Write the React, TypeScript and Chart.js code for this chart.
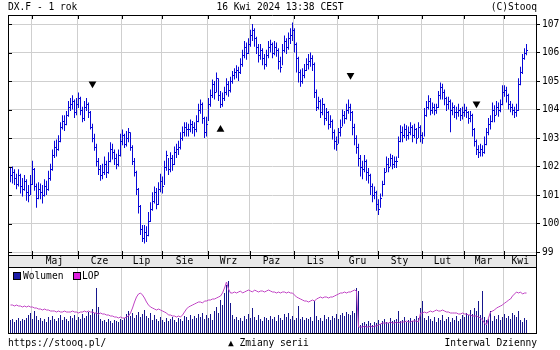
import React, { useEffect, useRef } from "react";
import { Chart, registerables } from "chart.js";

Chart.register(...registerables);

const FONT = "'DejaVu Sans Mono', monospace";
const FONT_SIZE = 9.6;

// trading calendar
const FIRST_DAY = "2023-04-14";
const LAST_DAY = "2024-04-16";
const HOLIDAYS = ["2023-07-04", "2023-12-25", "2024-01-01", "2024-03-29"];
const MONTH_NAMES = ["Sty", "Lut", "Mar", "Kwi", "Maj", "Cze", "Lip", "Sie", "Wrz", "Paz", "Lis", "Gru"];

// price axis
const PRICE_TICKS = [99, 100, 101, 102, 103, 104, 105, 106, 107];
const PRICE_MIN = 98.895;
const PRICE_MAX = 107.316;
const X_MIN = -1.25;
const X_MAX = 263.25;

const HIGH = [
  101.95, 102.0, 101.9, 101.75, 101.9, 101.75, 101.6, 101.7, 101.55,
  101.35, 101.7, 102.2, 101.95, 101.4, 101.45, 101.4, 101.35, 101.55, 101.5,
  101.85, 102.1, 102.6, 102.9, 102.95, 103.1, 103.55, 103.8, 103.8, 103.95,
  104.3, 104.4, 104.5, 104.35, 104.4, 104.6, 104.45, 104.1, 104.3, 104.4,
  104.25, 103.95, 103.5, 103.15, 102.8, 102.3, 102.05, 102.1, 102.35, 102.2,
  102.5, 102.85, 102.8, 102.6, 102.45, 102.6, 103.15, 103.3, 103.15, 103.25,
  103.35, 103.2, 102.75, 102.3, 101.85, 101.25, 100.65, 99.95, 99.95, 99.9,
  100.4, 100.75, 101.1, 101.3, 101.25, 101.45, 101.75, 101.65, 102.2, 102.55,
  102.3, 102.5, 102.4, 102.7, 102.8, 102.9, 103.2, 103.4, 103.55,
  103.55, 103.5, 103.65, 103.6, 103.55, 103.8, 104.2, 104.35, 104.25, 103.75,
  103.75, 104.4, 104.7, 105.05, 105.0, 105.3, 105.1, 104.65, 104.6, 104.8,
  105.1, 105.0, 105.15, 105.35, 105.45, 105.55, 105.5, 105.8, 106.1, 106.4,
  106.35, 106.5, 106.8, 107.0, 106.85, 106.55, 106.3, 106.3, 106.15, 105.95,
  106.1, 106.4, 106.45, 106.35, 106.4, 106.35, 106.15, 105.85, 106.3, 106.6,
  106.5, 106.7, 106.85, 107.05, 106.85, 106.35, 105.85, 105.4, 105.45, 105.6,
  105.8, 105.95, 106.0, 105.9, 105.65, 104.7, 104.45, 104.35, 104.4, 104.2,
  104.05, 103.95, 103.8, 103.65, 103.3, 103.05, 103.35, 103.65, 104.0, 103.95,
  104.2, 104.35, 104.2, 103.95, 103.5, 103.1, 102.8, 102.4, 102.2, 102.4,
  102.25, 101.95, 101.75, 101.4, 101.3, 101.15, 100.85, 101.05, 101.5, 101.95,
  102.35, 102.3, 102.45, 102.4, 102.35, 102.35, 103.05, 103.45, 103.4,
  103.5, 103.45, 103.4, 103.55, 103.45, 103.5, 103.35, 103.55, 103.45, 103.2,
  104.05, 104.3, 104.5, 104.4, 104.25, 104.2, 104.2, 104.65, 104.95, 104.9,
  104.7, 104.45, 104.45, 104.35, 104.25, 104.15, 104.1, 104.2, 104.05, 104.1,
  104.2, 104.1, 103.95, 103.95, 103.85, 103.35, 102.95, 102.75, 102.8, 102.75,
  103.05, 103.35, 103.7, 103.8, 104.25, 104.15, 104.3, 104.25, 104.35, 104.85,
  104.85, 104.8, 104.55, 104.3, 104.2, 104.1, 104.2, 105.1, 105.5, 105.95,
  106.15, 106.3,
];

const LOW = [
  101.45, 101.4, 101.35, 101.2, 101.3, 101.05, 100.95, 101.15, 100.8,
  100.75, 101.0, 101.35, 101.15, 100.55, 100.85, 100.85, 100.7, 100.95, 101.0,
  101.15, 101.5, 101.85, 102.3, 102.35, 102.55, 102.85, 103.3, 103.25, 103.45,
  103.75, 103.95, 104.0, 103.7, 103.8, 104.05, 103.8, 103.55, 103.6, 103.95,
  103.7, 103.3, 102.85, 102.55, 102.0, 101.7, 101.5, 101.55, 101.7, 101.6,
  101.75, 102.15, 102.25, 102.05, 101.9, 102.0, 102.35, 102.75, 102.65, 102.7,
  102.85, 102.55, 102.05, 101.65, 101.0, 100.35, 99.6, 99.35, 99.3, 99.35,
  99.55, 100.05, 100.45, 100.7, 100.5, 100.65, 101.1, 101.05, 101.35, 101.85,
  101.7, 101.8, 101.85, 102.05, 102.3, 102.4, 102.6, 102.9, 103.05,
  103.05, 103.05, 103.2, 103.15, 103.05, 103.2, 103.55, 103.85, 103.5, 103.0,
  103.05, 103.6, 104.1, 104.4, 104.35, 104.6, 104.3, 104.05, 104.1, 104.3,
  104.5, 104.45, 104.6, 104.9, 105.05, 105.1, 105.0, 105.25, 105.5, 105.8,
  105.75, 105.95, 106.2, 106.4, 106.2, 105.95, 105.65, 105.75, 105.55, 105.4,
  105.5, 105.8, 106.0, 105.8, 105.9, 105.85, 105.4, 105.3, 105.55, 106.0,
  105.95, 106.1, 106.3, 106.4, 106.0, 105.3, 104.95, 104.8, 104.9, 105.1,
  105.35, 105.4, 105.5, 105.35, 104.4, 103.95, 104.0, 103.7, 103.8, 103.45,
  103.6, 103.3, 103.35, 102.95, 102.6, 102.55, 102.8, 103.05, 103.4, 103.5,
  103.65, 103.85, 103.6, 103.1, 102.75, 102.45, 102.0, 101.65, 101.55, 101.8,
  101.5, 101.4, 101.0, 100.75, 100.85, 100.45, 100.3, 100.55, 100.95, 101.35,
  101.8, 101.8, 102.0, 101.9, 101.95, 101.95, 102.3, 102.85, 102.85,
  103.0, 102.9, 102.95, 103.1, 102.85, 103.0, 102.8, 103.0, 102.85, 102.8,
  103.05, 103.75, 104.0, 103.8, 103.85, 103.8, 103.85, 104.05, 104.35, 104.35,
  104.15, 103.95, 104.0, 103.2, 103.8, 103.7, 103.65, 103.75, 103.6, 103.65,
  103.75, 103.7, 103.5, 103.55, 103.05, 102.7, 102.4, 102.3, 102.35, 102.35,
  102.45, 102.75, 103.1, 103.3, 103.55, 103.55, 103.8, 103.75, 103.9, 104.15,
  104.45, 104.25, 104.0, 103.9, 103.8, 103.7, 103.75, 103.95, 104.85, 105.25,
  105.75, 105.9,
];

const CLOSE = [
  101.7, 101.8, 101.6, 101.4, 101.7, 101.3, 101.2, 101.5, 101.1,
  101.0, 101.4, 101.9, 101.3, 100.9, 101.2, 101.1, 101.0, 101.3, 101.2,
  101.6, 101.9, 102.4, 102.7, 102.6, 102.9, 103.4, 103.6, 103.5, 103.8,
  104.1, 104.2, 104.3, 103.9, 104.2, 104.4, 104.0, 103.7, 104.1, 104.2,
  103.9, 103.4, 103.0, 102.7, 102.2, 101.9, 101.7, 101.8, 102.1, 101.8,
  102.2, 102.6, 102.5, 102.3, 102.1, 102.4, 102.9, 103.1, 102.8, 103.0,
  103.2, 102.7, 102.2, 101.8, 101.2, 100.6, 99.8, 99.5, 99.7, 99.6,
  100.1, 100.5, 100.8, 101.1, 100.7, 101.2, 101.5, 101.3, 102.0, 102.4,
  101.9, 102.3, 102.1, 102.5, 102.6, 102.7, 103.0, 103.2, 103.4,
  103.3, 103.3, 103.5, 103.4, 103.3, 103.6, 104.0, 104.2, 103.7, 103.2,
  103.5, 104.2, 104.5, 104.9, 104.6, 105.1, 104.5, 104.2, 104.4, 104.6,
  104.9, 104.7, 105.0, 105.2, 105.3, 105.4, 105.3, 105.6, 105.9, 106.2,
  106.0, 106.3, 106.6, 106.8, 106.5, 106.2, 105.9, 106.1, 105.8, 105.6,
  105.9, 106.2, 106.3, 106.0, 106.2, 106.1, 105.7, 105.5, 106.1, 106.4,
  106.2, 106.5, 106.6, 106.8, 106.3, 105.8, 105.3, 105.0, 105.2, 105.4,
  105.6, 105.7, 105.8, 105.6, 104.6, 104.1, 104.3, 103.9, 104.2, 103.7,
  103.9, 103.5, 103.6, 103.2, 102.9, 102.8, 103.2, 103.4, 103.8, 103.7,
  104.0, 104.1, 103.9, 103.4, 103.0, 102.7, 102.3, 102.0, 101.9, 102.2,
  101.8, 101.7, 101.3, 101.0, 101.1, 100.7, 100.5, 100.9, 101.4, 101.8,
  102.1, 102.0, 102.3, 102.1, 102.2, 102.2, 102.9, 103.2, 103.1,
  103.3, 103.1, 103.2, 103.4, 103.1, 103.3, 103.0, 103.4, 103.1, 103.0,
  103.8, 104.1, 104.3, 104.0, 104.1, 104.0, 104.1, 104.5, 104.8, 104.6,
  104.4, 104.2, 104.3, 104.0, 104.1, 103.9, 103.9, 104.0, 103.8, 103.9,
  104.0, 103.9, 103.7, 103.8, 103.3, 102.9, 102.6, 102.5, 102.6, 102.5,
  102.8, 103.2, 103.5, 103.6, 104.0, 103.8, 104.1, 104.0, 104.2, 104.6,
  104.7, 104.5, 104.2, 104.1, 104.0, 103.9, 104.0, 104.9, 105.3, 105.8,
  106.0, 106.1,
];

const VOLUME = [
  13, 14, 11, 13, 15, 12, 14, 13, 15,
  18, 20, 14, 22, 17, 13, 15, 12, 14, 11,
  16, 13, 17, 14, 12, 15, 18, 13, 16, 14,
  12, 17, 15, 18, 13, 16, 14, 19, 15, 17,
  21, 18, 24, 20, 45, 26, 14, 12, 13, 11,
  14, 12, 10, 13, 12, 11, 14, 13, 15, 19,
  22, 17, 20, 15, 18, 21, 16, 19, 23, 17,
  15, 20, 13, 18, 14, 12, 16, 13, 11, 15,
  12, 14, 16, 13, 11, 15, 14, 12, 17,
  16, 13, 18, 14, 17, 15, 19, 16, 20, 14,
  18, 15, 19, 13, 22, 26, 20, 33, 28, 40,
  48, 52, 30, 18, 14, 16, 13, 15, 12, 17,
  14, 19, 15, 25, 16, 13, 18, 14, 12, 16,
  15, 13, 17, 14, 16, 12, 18, 15, 13, 19,
  16, 20, 14, 17, 13, 15, 27, 14, 16, 13,
  15, 14, 16, 12, 32, 17, 13, 15, 12, 18,
  14, 16, 13, 17, 15, 19, 14, 18, 20, 17,
  21, 19, 18, 22, 20, 45, 42, 8, 10, 11,
  9, 12, 10, 8, 11, 10, 13, 9, 12, 14,
  11, 10, 15, 12, 13, 14, 22, 12, 13,
  16, 11, 13, 15, 12, 14, 17, 15, 25, 32,
  15, 13, 17, 14, 12, 16, 11, 15, 13, 18,
  12, 14, 16, 11, 15, 13, 17, 12, 14, 18,
  16, 20, 18, 23, 19, 25, 22, 32, 18, 42,
  16, 13, 14, 22, 12, 17, 14, 18, 13, 16,
  19, 15, 17, 14, 20, 18, 16, 22, 13, 11,
  15, 13,
];

const LOP = [
  28, 28, 27, 28, 27, 27, 26, 27, 26,
  27, 26, 26, 25, 25, 24, 24, 23, 24, 23,
  23, 22, 22, 22, 21, 22, 21, 21, 22, 21,
  21, 21, 22, 21, 21, 20, 21, 21, 22, 21,
  22, 21, 21, 20, 20, 19, 20, 19, 19, 18,
  18, 17, 17, 16, 16, 15, 16, 15, 15, 16,
  17, 20, 25, 31, 36, 39, 40, 38, 35, 31,
  28, 26, 25, 24, 23, 24, 23, 22, 21, 20,
  18, 18, 17, 17, 16, 17, 16, 18, 21,
  24, 26, 27, 28, 29, 30, 31, 31, 30, 32,
  32, 33, 33, 34, 34, 35, 36, 37, 40, 45,
  51, 44, 40, 40, 41, 40, 41, 42, 40, 41,
  42, 43, 42, 41, 43, 42, 41, 42, 42, 41,
  42, 43, 42, 41, 41, 40, 41, 40, 41, 41,
  40, 41, 40, 40, 38, 36, 35, 34, 33, 32,
  32, 31, 32, 33, 32, 34, 35, 36, 35, 36,
  36, 35, 36, 36, 37, 38, 39, 40, 40, 41,
  40, 41, 41, 42, 43, 42, 6, 6, 6, 7,
  6, 6, 7, 6, 7, 7, 8, 9, 10, 10,
  10, 10, 11, 10, 10, 11, 10, 11, 11,
  11, 12, 11, 11, 12, 12, 12, 11, 20, 20,
  21, 20, 21, 22, 21, 22, 23, 22, 22, 23,
  22, 21, 21, 20, 20, 20, 20, 19, 19, 20,
  19, 19, 18, 18, 17, 17, 17, 16, 15, 13,
  10, 8, 15, 21, 22, 23, 25, 26, 27, 28,
  30, 31, 33, 34, 37, 39, 41, 40, 41, 39,
  40, 40,
];

// series changes (contract rolls)
const ROLL_DOWN_INDEX = [41, 170, 233];
const ROLL_DOWN_PRICE = [104.9, 105.2, 104.2];
const ROLL_UP_INDEX = [105];
const ROLL_UP_PRICE = [103.3];

const BLUE = "#0808d8";
const VOL_COLOR = "#16168c";
const LOP_COLOR = "#c044c4";
const GRID = "#cfcfcf";
const BAND = "#e8e8e8";

function tradingDays(): Date[] {
  const out: Date[] = [];
  const d = new Date(FIRST_DAY + "T00:00:00Z");
  const end = new Date(LAST_DAY + "T00:00:00Z");
  while (d <= end) {
    const wd = d.getUTCDay();
    const iso = d.toISOString().slice(0, 10);
    if (wd !== 0 && wd !== 6 && !HOLIDAYS.includes(iso)) out.push(new Date(d.getTime()));
    d.setUTCDate(d.getUTCDate() + 1);
  }
  return out;
}

function monthBoundaries(days: Date[]) {
  const res: { index: number; label: string }[] = [];
  for (let i = 1; i < days.length; i++) {
    if (days[i].getUTCMonth() !== days[i - 1].getUTCMonth()) {
      res.push({ index: i, label: MONTH_NAMES[days[i].getUTCMonth()] });
    }
  }
  return res;
}

export default function App() {
  const priceRef = useRef<HTMLCanvasElement>(null);
  const volRef = useRef<HTMLCanvasElement>(null);

  useEffect(() => {
    const days = tradingDays();
    const bounds = monthBoundaries(days);

    const xScaleOpts = {
      type: "linear" as const,
      min: X_MIN,
      max: X_MAX,
      offset: false,
      grid: { offset: false, color: GRID, drawTicks: false, lineWidth: 1 },
      border: { display: false },
      ticks: { display: false, autoSkip: false },
      afterBuildTicks: (s: any) => {
        s.ticks = bounds.map((b) => ({ value: b.index - 0.5 }));
      },
      afterFit: (s: any) => {
        s.height = 0;
      },
    };

    const pricePlugin = {
      id: "priceDecor",
      afterDatasetsDraw(chart: any) {
        const { ctx, chartArea: a, scales } = chart;
        const x = scales.x;
        const y = scales.y;
        ctx.save();
        ctx.beginPath();
        ctx.rect(a.left, a.top, a.right - a.left, a.bottom - a.top);
        ctx.clip();
        ctx.fillStyle = BLUE;
        for (let i = 0; i < CLOSE.length; i++) {
          const px = x.getPixelForValue(i);
          // close tick (right)
          const pc = Math.round(y.getPixelForValue(CLOSE[i]));
          ctx.fillRect(Math.round(px + 0.5), pc, 1, 1);
          // open tick (left) at the previous session's close
          if (i > 0) {
            const po = Math.round(y.getPixelForValue(CLOSE[i - 1]));
            ctx.fillRect(Math.round(px - 1.5), po, 1, 1);
          }
        }
        ctx.restore();
      },
      afterDraw(chart: any) {
        const { ctx, chartArea: a, scales } = chart;
        const x = scales.x;
        const y = scales.y;
        const L = Math.round(a.left);
        const R = Math.round(a.right) - 1;
        const T = Math.round(a.top);
        const B = Math.round(a.bottom);
        ctx.save();
        ctx.strokeStyle = "#000";
        ctx.lineWidth = 1;
        // band
        ctx.fillStyle = BAND;
        ctx.fillRect(L, B, R - L, 12);
        ctx.beginPath();
        ctx.moveTo(L + 0.5, T);
        ctx.lineTo(L + 0.5, B + 12);
        ctx.moveTo(R + 0.5, T);
        ctx.lineTo(R + 0.5, B + 12);
        ctx.moveTo(L, T + 0.5);
        ctx.lineTo(R + 1, T + 0.5);
        ctx.moveTo(L, B + 0.5);
        ctx.lineTo(R + 1, B + 0.5);
        ctx.stroke();
        // inner ticks
        ctx.beginPath();
        for (const v of PRICE_TICKS) {
          const py = Math.round(y.getPixelForValue(v)) + 0.5;
          ctx.moveTo(L, py);
          ctx.lineTo(L + 4, py);
        }
        for (const b of bounds) {
          const px = Math.round(x.getPixelForValue(b.index - 0.5)) + 0.5;
          ctx.moveTo(px, T);
          ctx.lineTo(px, T + 4);
          ctx.moveTo(px, B - 4);
          ctx.lineTo(px, B + 4);
        }
        ctx.stroke();
        // month labels
        ctx.fillStyle = "#000";
        ctx.font = `${FONT_SIZE}px ${FONT}`;
        ctx.textAlign = "center";
        ctx.textBaseline = "middle";
        bounds.forEach((b, k) => {
          const x0 = x.getPixelForValue(b.index - 0.5);
          const x1 = k + 1 < bounds.length ? x.getPixelForValue(bounds[k + 1].index - 0.5) : a.right;
          ctx.fillText(b.label, (x0 + x1) / 2, B + 6.5);
        });
        ctx.restore();
      },
    };

    const priceChart = new Chart(priceRef.current as HTMLCanvasElement, {
      type: "bar",
      data: {
        datasets: [
          {
            type: "bar",
            data: HIGH.map((h, i) => ({ x: i, y: [LOW[i], h] })) as any,
            backgroundColor: BLUE,
            barThickness: 1,
            inflateAmount: 0,
            borderWidth: 0,
            order: 2,
          } as any,
          {
            type: "line",
            data: ROLL_DOWN_INDEX.map((d, k) => ({ x: d, y: ROLL_DOWN_PRICE[k] })),
            showLine: false,
            pointStyle: "triangle",
            pointRotation: 180,
            pointRadius: 4.5,
            pointBackgroundColor: "#000",
            pointBorderColor: "#000",
            pointBorderWidth: 0,
            order: 0,
          } as any,
          {
            type: "line",
            data: ROLL_UP_INDEX.map((d, k) => ({ x: d, y: ROLL_UP_PRICE[k] })),
            showLine: false,
            pointStyle: "triangle",
            pointRotation: 0,
            pointRadius: 4.5,
            pointBackgroundColor: "#000",
            pointBorderColor: "#000",
            pointBorderWidth: 0,
            order: 0,
          } as any,
        ],
      },
      options: {
        responsive: false,
        animation: false,
        devicePixelRatio: 1,
        events: [],
        layout: { padding: { left: 8, top: 15, right: 0, bottom: 12 } },
        plugins: { legend: { display: false }, tooltip: { enabled: false } },
        scales: {
          x: xScaleOpts as any,
          y: {
            type: "linear",
            position: "right",
            min: PRICE_MIN,
            max: PRICE_MAX,
            grid: { color: GRID, tickColor: "#000", tickLength: 3 },
            border: { display: false },
            ticks: {
              font: { family: FONT, size: FONT_SIZE },
              color: "#000",
              padding: 2,
              callback: (v: any) => String(v),
            },
            afterBuildTicks: (s: any) => {
              s.ticks = PRICE_TICKS.map((v) => ({ value: v }));
            },
            afterFit: (s: any) => {
              s.width = 23;
            },
          } as any,
        },
      },
      plugins: [pricePlugin],
    });

    const volPlugin = {
      id: "volDecor",
      afterDraw(chart: any) {
        const { ctx, chartArea: a } = chart;
        const L = Math.round(a.left);
        const R = Math.round(a.right) - 1;
        const T = Math.round(a.top);
        const B = Math.round(a.bottom);
        ctx.save();
        ctx.strokeStyle = "#000";
        ctx.lineWidth = 1;
        ctx.strokeRect(L + 0.5, T + 0.5, R - L, B - T);
        ctx.restore();
      },
    };

    const volChart = new Chart(volRef.current as HTMLCanvasElement, {
      type: "bar",
      data: {
        datasets: [
          {
            type: "line",
            data: LOP.map((v, i) => ({ x: i, y: v })),
            yAxisID: "y2",
            borderColor: LOP_COLOR,
            borderWidth: 1,
            pointRadius: 0,
            tension: 0,
            order: 0,
          } as any,
          {
            type: "bar",
            data: VOLUME.map((v, i) => ({ x: i, y: v })) as any,
            yAxisID: "y",
            backgroundColor: VOL_COLOR,
            barThickness: 1,
            inflateAmount: 0,
            borderWidth: 0,
            order: 1,
          } as any,
        ],
      },
      options: {
        responsive: false,
        animation: false,
        devicePixelRatio: 1,
        events: [],
        layout: { padding: { left: 8, top: 0, right: 23, bottom: 17 } },
        plugins: { legend: { display: false }, tooltip: { enabled: false } },
        scales: {
          x: xScaleOpts as any,
          y: { display: false, min: 0, max: 66 },
          y2: { display: false, min: 0, max: 66 },
        },
      },
      plugins: [volPlugin],
    });

    return () => {
      priceChart.destroy();
      volChart.destroy();
    };
  }, []);

  const txt: React.CSSProperties = {
    position: "absolute",
    fontFamily: FONT,
    fontSize: `${FONT_SIZE}px`,
    lineHeight: "12px",
    color: "#000",
    whiteSpace: "pre",
  };

  return (
    <div style={{ position: "fixed", left: 0, top: 0, width: 560, height: 350, background: "#fff", overflow: "hidden" }}>
      <canvas ref={priceRef} width={560} height={267} style={{ position: "absolute", left: 0, top: 0, width: 560, height: 267 }} />
      <canvas ref={volRef} width={560} height={83} style={{ position: "absolute", left: 0, top: 267, width: 560, height: 83 }} />
      <div style={{ ...txt, left: 8, top: 1 }}>DX.F - 1 rok</div>
      <div style={{ ...txt, left: 0, width: 560, textAlign: "center", top: 1 }}>16 Kwi 2024 13:38 CEST</div>
      <div style={{ ...txt, right: 23, top: 1 }}>(C)Stooq</div>
      <div style={{ position: "absolute", left: 13, top: 272, width: 6, height: 6, background: "#1c1ca8", border: "1px solid #000" }} />
      <div style={{ ...txt, left: 23, top: 270 }}>Wolumen</div>
      <div style={{ position: "absolute", left: 73, top: 272, width: 6, height: 6, background: "#e020e0", border: "1px solid #000" }} />
      <div style={{ ...txt, left: 82, top: 270 }}>LOP</div>
      <div style={{ ...txt, left: 8, top: 337 }}>https://stooq.pl/</div>
      <div style={{ ...txt, left: 228, top: 337 }}>▲ Zmiany serii</div>
      <div style={{ ...txt, right: 23, top: 337 }}>Interwal Dzienny</div>
    </div>
  );
}
